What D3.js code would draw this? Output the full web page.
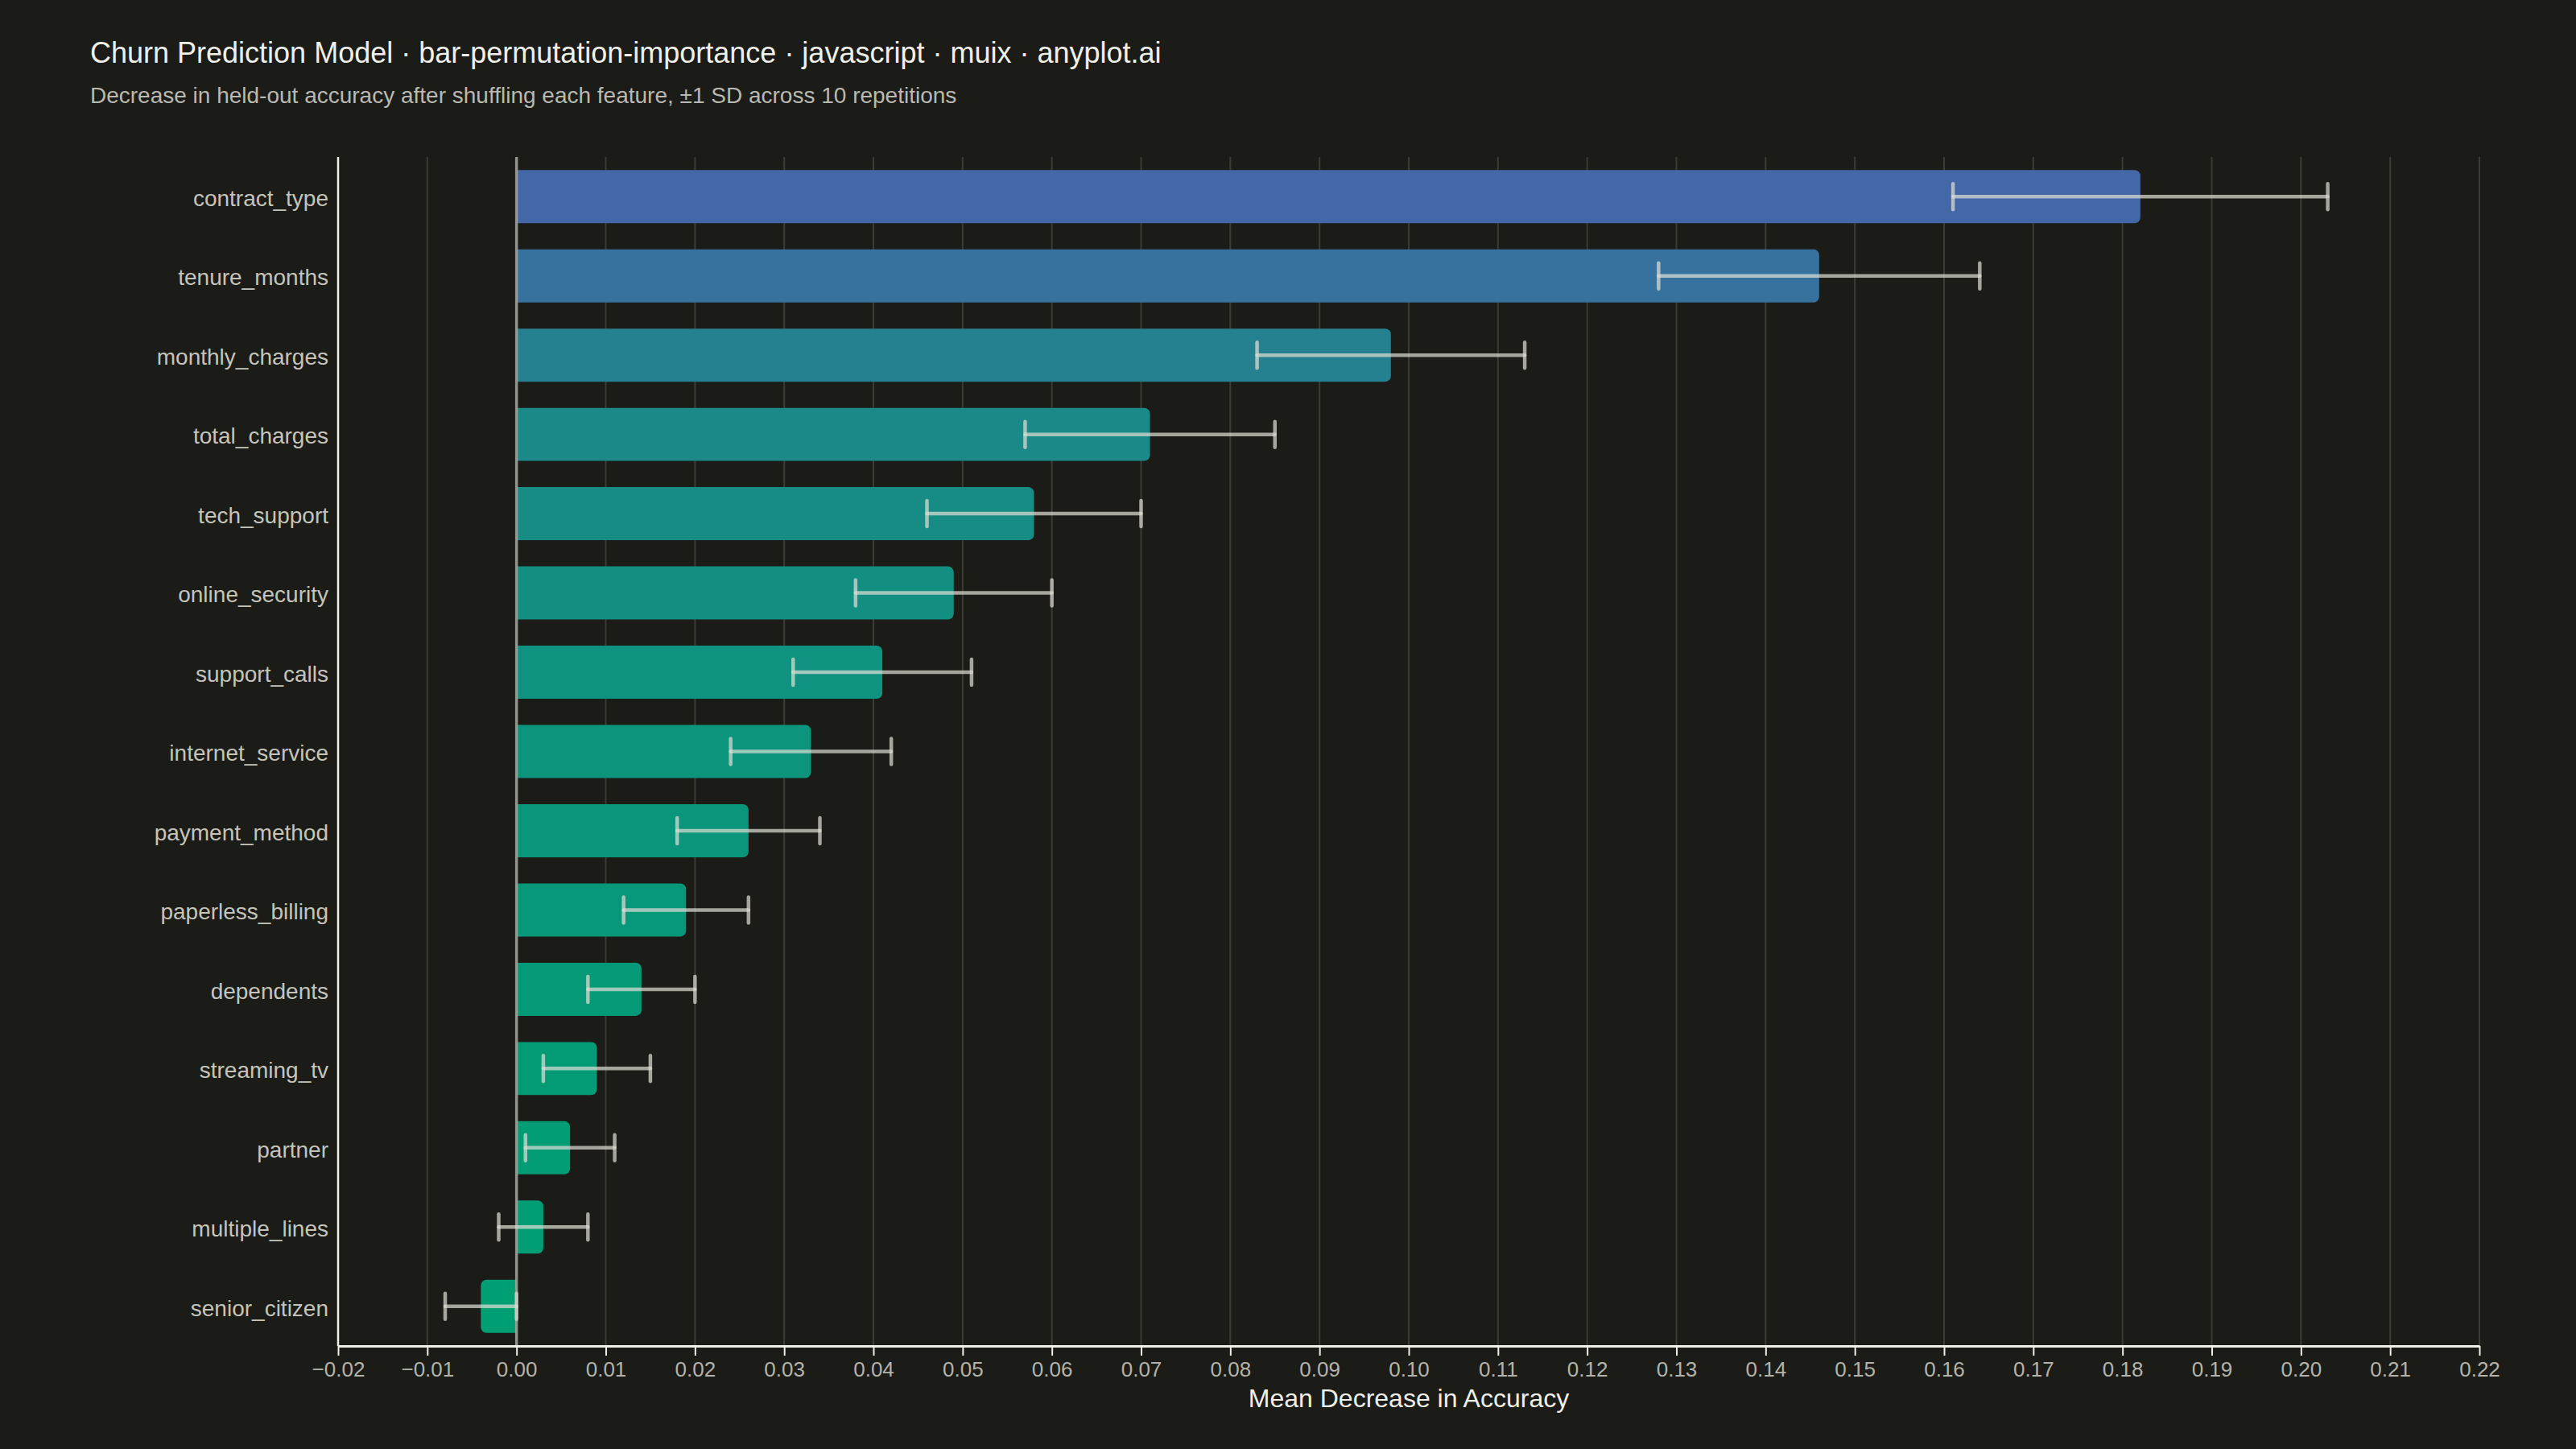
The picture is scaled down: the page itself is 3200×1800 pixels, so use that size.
<!DOCTYPE html>
<html>
<head>
<meta charset="utf-8">
<script src="https://cdn.jsdelivr.net/npm/d3@7"></script>
<style>
  html, body { margin: 0; padding: 0; background: #1b1b17; }
  svg { display: block; }
</style>
</head>
<body>
<div id="chart"></div>
<script>
// Données : importance par permutation (moyenne et écart-type sur 10 répétitions)
const features = [
  "contract_type", "tenure_months", "monthly_charges", "total_charges", "tech_support",
  "online_security", "support_calls", "internet_service", "payment_method", "paperless_billing",
  "dependents", "streaming_tv", "partner", "multiple_lines", "senior_citizen"
];
const importance = [0.182, 0.146, 0.098, 0.071, 0.058, 0.049, 0.041, 0.033, 0.026, 0.019, 0.014, 0.009, 0.006, 0.003, -0.004];
const stdDev     = [0.021, 0.018, 0.015, 0.014, 0.012, 0.011, 0.010, 0.009, 0.008, 0.007, 0.006, 0.006, 0.005, 0.005, 0.004];
const xTickValues = [-0.02, -0.01, 0, 0.01, 0.02, 0.03, 0.04, 0.05, 0.06, 0.07, 0.08, 0.09, 0.10, 0.11,
                     0.12, 0.13, 0.14, 0.15, 0.16, 0.17, 0.18, 0.19, 0.20, 0.21, 0.22];

const title = "Churn Prediction Model · bar-permutation-importance · javascript · muix · anyplot.ai";
const subtitle = "Decrease in held-out accuracy after shuffling each feature, ±1 SD across 10 repetitions";
const xLabel = "Mean Decrease in Accuracy";

const width = 3200;
const height = 1800;
const margin = { top: 195, right: 120, bottom: 128, left: 420 };

const rows = features.map((f, i) => ({ name: f, value: importance[i], sd: stdDev[i] }));

const svg = d3.select("#chart").append("svg")
    .attr("width", width)
    .attr("height", height)
    .style("background", "#1b1b17")
    .style("font-family", "'Liberation Sans', Arial, sans-serif");

// Échelles
const x = d3.scaleLinear()
    .domain([-0.02, 0.22])
    .range([margin.left, width - margin.right]);

const y = d3.scaleBand()
    .domain(features)
    .range([margin.top, height - margin.bottom])
    .paddingInner(0.33)
    .paddingOuter(0.165);

const color = d3.scaleLinear()
    .domain([0, d3.max(importance)])
    .range(["#009E73", "#4467A8"])
    .clamp(true);

// Titre et sous-titre
svg.append("text")
    .attr("x", 112).attr("y", 78)
    .attr("fill", "#f0efe8")
    .attr("font-size", 36)
    .text(title);

svg.append("text")
    .attr("x", 112).attr("y", 128)
    .attr("fill", "#b9b9b1")
    .attr("font-size", 28)
    .text(subtitle);

// Grille verticale
svg.append("g")
    .selectAll("line")
    .data(xTickValues)
    .enter().append("line")
    .attr("x1", d => x(d)).attr("x2", d => x(d))
    .attr("y1", margin.top).attr("y2", height - margin.bottom)
    .attr("stroke", "#3c3c37")
    .attr("stroke-width", 2);

// Barres, arrondies du côté opposé à zéro
function barPath(x0, x1, top, h, r) {
    const dir = x1 >= x0 ? 1 : -1;
    const w = Math.abs(x1 - x0);
    r = Math.min(r, w / 2, h / 2);
    const sweep = dir > 0 ? 1 : 0;
    return `M${x0},${top}` +
        `H${x1 - dir * r}` +
        `A${r},${r} 0 0 ${sweep} ${x1},${top + r}` +
        `V${top + h - r}` +
        `A${r},${r} 0 0 ${sweep} ${x1 - dir * r},${top + h}` +
        `H${x0}Z`;
}

svg.append("g")
    .selectAll("path")
    .data(rows)
    .enter().append("path")
    .attr("d", d => barPath(x(0), x(d.value), y(d.name), y.bandwidth(), 7))
    .attr("fill", d => color(d.value));

// Ligne du zéro
svg.append("line")
    .attr("x1", x(0)).attr("x2", x(0))
    .attr("y1", margin.top).attr("y2", height - margin.bottom)
    .attr("stroke", "#a3a39c")
    .attr("stroke-opacity", 0.85)
    .attr("stroke-width", 3.5);

// Barres d'erreur ±1 SD
const err = svg.append("g")
    .attr("stroke", "#dcdcd4")
    .attr("stroke-opacity", 0.72)
    .attr("stroke-width", 4.5)
    .attr("stroke-linecap", "round")
    .selectAll("g")
    .data(rows)
    .enter().append("g");

const capHalf = 16;
err.append("line")
    .attr("x1", d => x(d.value - d.sd)).attr("x2", d => x(d.value + d.sd))
    .attr("y1", d => y(d.name) + y.bandwidth() / 2)
    .attr("y2", d => y(d.name) + y.bandwidth() / 2);
err.append("line")
    .attr("x1", d => x(d.value - d.sd)).attr("x2", d => x(d.value - d.sd))
    .attr("y1", d => y(d.name) + y.bandwidth() / 2 - capHalf)
    .attr("y2", d => y(d.name) + y.bandwidth() / 2 + capHalf);
err.append("line")
    .attr("x1", d => x(d.value + d.sd)).attr("x2", d => x(d.value + d.sd))
    .attr("y1", d => y(d.name) + y.bandwidth() / 2 - capHalf)
    .attr("y2", d => y(d.name) + y.bandwidth() / 2 + capHalf);

// Axe X
const xAxis = svg.append("g")
    .attr("transform", `translate(0,${height - margin.bottom})`)
    .call(d3.axisBottom(x)
        .tickValues(xTickValues)
        .tickFormat(d3.format(".2f"))
        .tickSize(12)
        .tickPadding(8)
        .tickSizeOuter(0));
xAxis.select(".domain").attr("stroke", "#f0efe8").attr("stroke-width", 3);
xAxis.selectAll(".tick line").attr("stroke", "#f0efe8").attr("stroke-width", 2);
xAxis.selectAll(".tick text")
    .attr("fill", "#b3b3ab")
    .attr("font-size", 26)
    .attr("font-family", "'Liberation Sans', Arial, sans-serif");

// Axe Y (sans graduations)
const yAxis = svg.append("g")
    .attr("transform", `translate(${margin.left},0)`)
    .call(d3.axisLeft(y).tickSize(0).tickPadding(12));
yAxis.select(".domain")
    .attr("d", `M0,${margin.top}V${height - margin.bottom}`)
    .attr("stroke", "#f0efe8").attr("stroke-width", 2.5);
yAxis.selectAll(".tick text")
    .attr("fill", "#c4c4bc")
    .attr("font-size", 28)
    .attr("dy", "0.42em")
    .attr("font-family", "'Liberation Sans', Arial, sans-serif");

// Titre de l'axe X
svg.append("text")
    .attr("x", (x.range()[0] + x.range()[1]) / 2)
    .attr("y", 1748)
    .attr("text-anchor", "middle")
    .attr("fill", "#efeee7")
    .attr("font-size", 32)
    .text(xLabel);
</script>
</body>
</html>
